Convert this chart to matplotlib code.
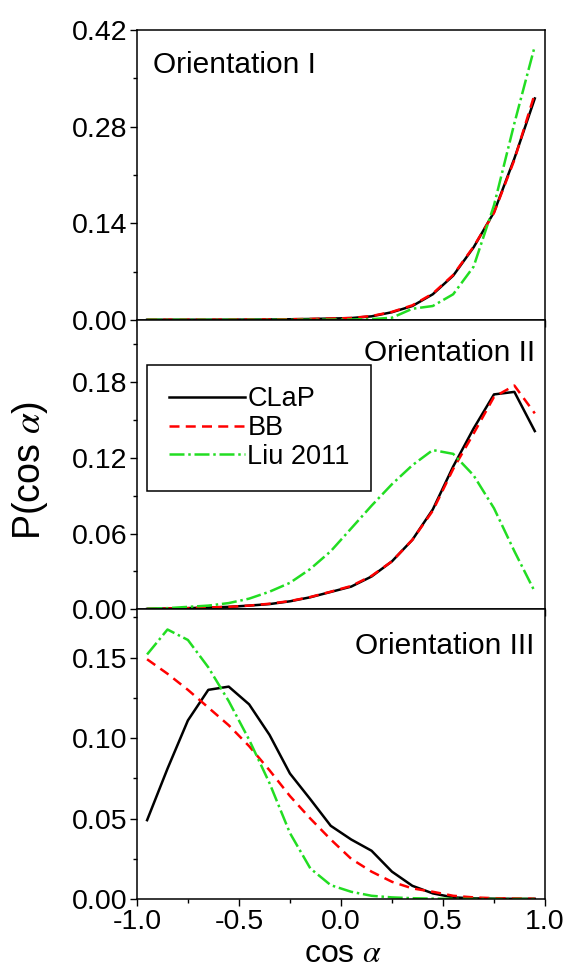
import matplotlib
matplotlib.use('Agg')
import matplotlib.pyplot as plt
from matplotlib.ticker import MultipleLocator

plt.rcParams['font.family'] = ['Liberation Sans', 'DejaVu Sans']
plt.rcParams['mathtext.fontset'] = 'stix'
plt.rcParams['axes.unicode_minus'] = False

# bin centres of cos(alpha)
cos_a = [-0.95, -0.85, -0.75, -0.65, -0.55, -0.45, -0.35, -0.25, -0.15, -0.05,
         0.05, 0.15, 0.25, 0.35, 0.45, 0.55, 0.65, 0.75, 0.85, 0.95]

# Orientation I
clap_1 = [0.0001, 0.0001, 0.0001, 0.0001, 0.0002, 0.0003, 0.0005, 0.0008, 0.0012, 0.0018,
          0.0025, 0.005, 0.011, 0.020, 0.037, 0.064, 0.105, 0.156, 0.234, 0.321]
bb_1 = [0.0001, 0.0001, 0.0001, 0.0001, 0.0002, 0.0003, 0.0005, 0.0008, 0.0012, 0.0018,
        0.0026, 0.0055, 0.0115, 0.021, 0.038, 0.065, 0.106, 0.155, 0.232, 0.328]
liu_1 = [0.0, 0.0, 0.0, 0.0, 0.0, 0.0, 0.0, 0.0, 0.0001, 0.0002,
         0.0004, 0.001, 0.003, 0.016, 0.020, 0.037, 0.077, 0.166, 0.285, 0.397]

# Orientation II
clap_2 = [0.0004, 0.0007, 0.001, 0.0015, 0.002, 0.003, 0.0042, 0.0064, 0.0096, 0.0138,
          0.018, 0.026, 0.038, 0.055, 0.079, 0.113, 0.143, 0.170, 0.172, 0.141]
bb_2 = [0.0004, 0.0007, 0.001, 0.0015, 0.002, 0.003, 0.0045, 0.0066, 0.0098, 0.014,
        0.0185, 0.0265, 0.038, 0.055, 0.078, 0.111, 0.139, 0.168, 0.177, 0.155]
liu_2 = [0.0005, 0.001, 0.002, 0.003, 0.005, 0.0085, 0.014, 0.021, 0.032, 0.046,
         0.064, 0.082, 0.099, 0.114, 0.126, 0.123, 0.106, 0.080, 0.046, 0.014]

# Orientation III
clap_3 = [0.049, 0.081, 0.111, 0.130, 0.132, 0.121, 0.102, 0.078, 0.062, 0.0455,
          0.037, 0.030, 0.017, 0.0082, 0.0035, 0.001, 0.0004, 0.0002, 0.0001, 0.0001]
bb_3 = [0.149, 0.140, 0.130, 0.119, 0.108, 0.095, 0.080, 0.064, 0.050, 0.037,
        0.025, 0.017, 0.0107, 0.0066, 0.0045, 0.002, 0.001, 0.0005, 0.0003, 0.0002]
liu_3 = [0.152, 0.1675, 0.161, 0.144, 0.123, 0.099, 0.072, 0.041, 0.019, 0.0086,
         0.0045, 0.002, 0.001, 0.0005, 0.0002, 0.0001, 0.0, 0.0, 0.0, 0.0]

panels = [
    ('Orientation I', clap_1, bb_1, liu_1, 0.42, 0.14),
    ('Orientation II', clap_2, bb_2, liu_2, 0.229, 0.06),
    ('Orientation III', clap_3, bb_3, liu_3, 0.18, 0.05),
]
labels = ['CLaP', 'BB', 'Liu 2011']

fig = plt.figure(figsize=(5.68, 9.74), dpi=100)
gs = fig.add_gridspec(3, 1, left=0.241, right=0.9595, top=0.969, bottom=0.077, hspace=0)
axes = [fig.add_subplot(gs[i]) for i in range(3)]

for i, (title, clap, bb, liu, ymax, step) in enumerate(panels):
    ax = axes[i]
    ax.plot(cos_a, clap, color='black', lw=1.8, label=labels[0])
    ax.plot(cos_a, bb, color='#ff0000', lw=1.8, ls=(0, (4, 2.5)), label=labels[1])
    ax.plot(cos_a, liu, color='#22dd22', lw=1.8, ls=(0, (6, 1.5, 1, 1.5)), label=labels[2])

    ax.set_xlim(-1.0, 1.0)
    ax.set_ylim(0, ymax)
    ax.xaxis.set_major_locator(MultipleLocator(0.5))
    ax.xaxis.set_minor_locator(MultipleLocator(0.25))
    ax.yaxis.set_major_locator(MultipleLocator(step))
    ax.yaxis.set_minor_locator(MultipleLocator(step / 2))
    ax.yaxis.set_major_formatter(plt.FormatStrFormatter('%.2f'))
    ax.tick_params(which='both', direction='out', top=False, right=False,
                   labelsize=20.5, width=1.0)
    ax.tick_params(which='major', length=5, pad=2)
    ax.tick_params(which='minor', length=3)
    for sp in ax.spines.values():
        sp.set_linewidth(1.1)
    if i < 2:
        ax.tick_params(labelbottom=False)

    if i == 0:
        ax.text(0.04, 0.88, title, transform=ax.transAxes, fontsize=21.5,
                ha='left', va='center')
    else:
        ax.text(0.975, 0.885 if i == 1 else 0.873, title, transform=ax.transAxes,
                fontsize=21.5, ha='right', va='center')

leg = axes[1].legend(loc='upper left', bbox_to_anchor=(0.025, 0.845), borderaxespad=0,
                     fontsize=19.5, handlelength=2.8, handletextpad=0.1,
                     labelspacing=0.1, fancybox=False, framealpha=1,
                     edgecolor='black', borderpad=0.8)
leg.get_frame().set_linewidth(1.1)

fig.text(0.053, 0.517, r'P(cos $\alpha$)', rotation=90, fontsize=27, ha='center', va='center')
fig.text(0.604, 0.021, r'cos $\alpha$', fontsize=23, ha='center', va='center')

fig.savefig('out.png', dpi=100)
